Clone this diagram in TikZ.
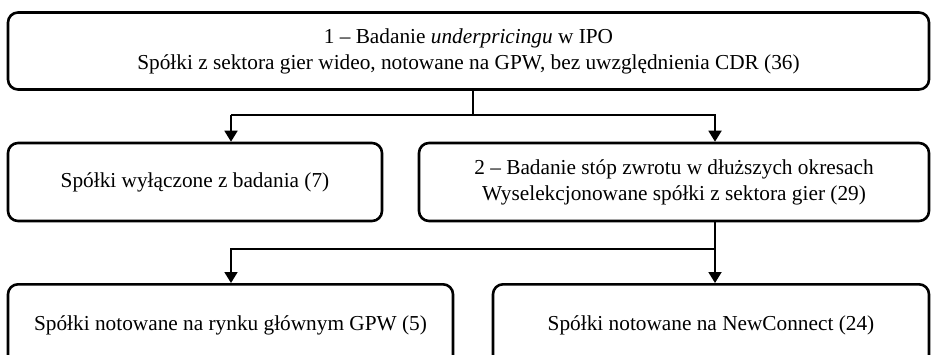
\documentclass[tikz,border=0pt]{standalone}
\usepackage{fontspec}
\setmainfont{Liberation Serif}
\usetikzlibrary{arrows.meta}
\begin{document}
\begin{tikzpicture}[x=1pt,y=-1pt,
  box/.style={draw, line width=2.6pt, rounded corners=10pt, inner sep=0pt, align=center,
    font=\fontsize{21.3}{26}\selectfont},
  conn/.style={line width=1.8pt},
  arr/.style={conn, -{Triangle[width=13pt,length=11pt]}}]
\useasboundingbox (0,0) rectangle (931,354);
\clip (0,0) rectangle (931,354);
\node[box, minimum width=921pt, minimum height=77pt] (top) at (468.5,51)
  {1 -- Badanie \textit{underpricingu} w IPO\\Spółki z sektora gier wideo, notowane na GPW, bez uwzględnienia CDR (36)};
\node[box, minimum width=374pt, minimum height=78pt] (b2L) at (195,182) {Spółki wyłączone z badania (7)};
\node[box, minimum width=510pt, minimum height=78pt] (b2R) at (674,182)
  {2 -- Badanie stóp zwrotu w dłuższych okresach\\Wyselekcjonowane spółki z sektora gier (29)};
\node[box, minimum width=445pt, minimum height=84pt, anchor=north] (b3L) at (230.5,283) {};
\node[box, minimum width=436pt, minimum height=84pt, anchor=north] (b3R) at (711,283) {};
\node[font=\fontsize{21.3}{26}\selectfont] (t3L) at (230.5,325) {Spółki notowane na rynku głównym GPW (5)};
\node[font=\fontsize{21.3}{26}\selectfont] (t3R) at (711,325) {Spółki notowane na NewConnect (24)};
\coordinate (j1) at (473,115);
\coordinate (j1L) at (231,115);
\coordinate (j1R) at (715,115);
\coordinate (j2) at (715,249);
\coordinate (j2L) at (231,249);
\draw[conn] (top.south -| j1) -- (j1);
\draw[arr] (j1L) -- (j1R) -- (j1R |- b2R.north);
\draw[arr] (j1L) -- (j1L |- b2L.north);
\draw[arr] (b2R.south -| j2) -- (j2) -- (j2 |- b3R.north);
\draw[arr] (j2) -- (j2L) -- (j2L |- b3L.north);
\end{tikzpicture}
\end{document}
